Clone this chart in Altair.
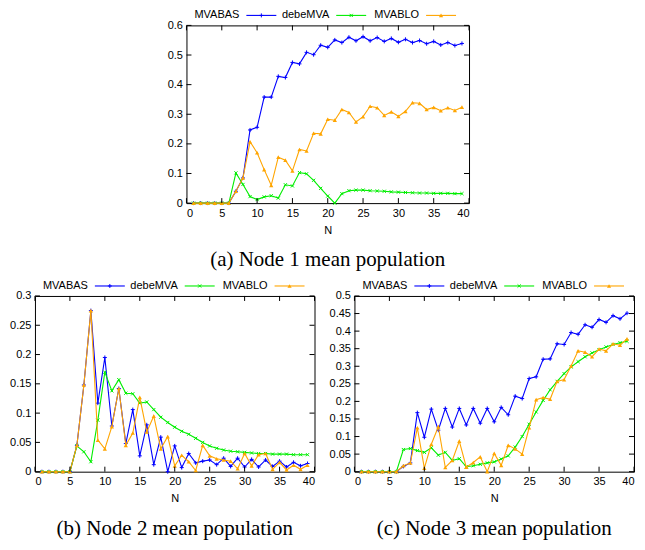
import altair as alt
import pandas as pd

N = list(range(1, 40))
SERIES = ["MVABAS", "debeMVA", "MVABLO"]
XTICKS = [0, 5, 10, 15, 20, 25, 30, 35, 40]

# ---- Node 1 ----
a_mvabas = [0, 0, 0, 0, 0, 0, 0.04, 0.085, 0.247, 0.256, 0.358, 0.358, 0.428, 0.424, 0.475, 0.470,
            0.509, 0.501, 0.533, 0.526, 0.551, 0.542, 0.560, 0.548, 0.562, 0.548, 0.559, 0.546,
            0.556, 0.543, 0.553, 0.542, 0.549, 0.538, 0.546, 0.534, 0.542, 0.532, 0.539]
a_debemva = [0, 0, 0, 0, 0, 0, 0.102, 0.063, 0.022, 0.012, 0.021, 0.025, 0.017, 0.062, 0.058, 0.103,
             0.099, 0.077, 0.050, 0.024, 0.0, 0.032, 0.042, 0.044, 0.044, 0.042, 0.041, 0.040,
             0.038, 0.037, 0.036, 0.035, 0.034, 0.034, 0.033, 0.033, 0.033, 0.032, 0.032]
a_mvablo = [0, 0, 0, 0, 0, 0, 0.04, 0.085, 0.207, 0.17, 0.113, 0.06, 0.155, 0.145, 0.109, 0.181,
            0.176, 0.236, 0.234, 0.283, 0.280, 0.316, 0.306, 0.274, 0.292, 0.327, 0.322, 0.296,
            0.308, 0.293, 0.310, 0.339, 0.337, 0.316, 0.323, 0.312, 0.322, 0.313, 0.324]

# ---- Node 2 ----
b_mvabas = [0, 0, 0, 0, 0, 0.045, 0.148, 0.275, 0.117, 0.195, 0.078, 0.142, 0.048, 0.106, 0.027,
            0.080, 0.012, 0.059, 0.0, 0.044, 0.007, 0.031, 0.015, 0.018, 0.020, 0.012, 0.023,
            0.009, 0.023, 0.008, 0.021, 0.008, 0.020, 0.009, 0.018, 0.008, 0.016, 0.010, 0.014]
b_debemva = [0, 0, 0, 0, 0, 0.044, 0.034, 0.017, 0.088, 0.170, 0.138, 0.157, 0.134, 0.133, 0.117,
             0.119, 0.106, 0.093, 0.084, 0.076, 0.069, 0.064, 0.057, 0.050, 0.044, 0.040, 0.037,
             0.035, 0.034, 0.033, 0.032, 0.031, 0.031, 0.030, 0.030, 0.030, 0.029, 0.029, 0.029]
b_mvablo = [0, 0, 0, 0, 0, 0.045, 0.148, 0.275, 0.054, 0.039, 0.077, 0.142, 0.045, 0.066, 0.127,
            0.068, 0.095, 0.039, 0.060, 0.010, 0.028, 0.017, 0.002, 0.045, 0.027, 0.022, 0.020,
            0.018, 0.005, 0.031, 0.010, 0.029, 0.031, 0.004, 0.016, 0.003, 0.011, 0.004, 0.011]

# ---- Node 3 ----
c_mvabas = [0, 0, 0, 0, 0, 0, 0.015, 0.025, 0.168, 0.098, 0.178, 0.118, 0.180, 0.127, 0.180, 0.133,
            0.180, 0.138, 0.180, 0.142, 0.183, 0.162, 0.215, 0.208, 0.265, 0.270, 0.320, 0.321,
            0.364, 0.362, 0.396, 0.391, 0.418, 0.411, 0.433, 0.425, 0.444, 0.435, 0.451]
c_debemva = [0, 0, 0, 0, 0, 0, 0.063, 0.066, 0.060, 0.055, 0.068, 0.047, 0.055, 0.032, 0.037, 0.014,
             0.017, 0.021, 0.025, 0.028, 0.036, 0.045, 0.070, 0.100, 0.135, 0.170, 0.203, 0.233,
             0.257, 0.279, 0.298, 0.313, 0.327, 0.338, 0.347, 0.355, 0.362, 0.367, 0.371]
c_mvablo = [0, 0, 0, 0, 0, 0, 0.017, 0.025, 0.125, 0.010, 0.078, 0.128, 0.012, 0.032, 0.087, 0.013,
            0.026, 0.042, 0.0, 0.052, 0.018, 0.075, 0.065, 0.050, 0.125, 0.205, 0.211, 0.206,
            0.257, 0.262, 0.301, 0.344, 0.340, 0.327, 0.349, 0.344, 0.364, 0.360, 0.378]

a_yticks = [0, 0.1, 0.2, 0.3, 0.4, 0.5, 0.6]
b_yticks = [0, 0.05, 0.1, 0.15, 0.2, 0.25, 0.3]
c_yticks = [0, 0.05, 0.1, 0.15, 0.2, 0.25, 0.3, 0.35, 0.4, 0.45, 0.5]

COLORS = {"MVABAS": "#0000ff", "debeMVA": "#00ee00", "MVABLO": "#ffa500"}
SANS = "Liberation Sans"
SERIF = "Liberation Serif"
TICK = 5


def point_mark(name):
    c = COLORS[name]
    if name == "MVABAS":
        return alt.Chart().mark_point(shape="M-1,0L1,0M0,-1L0,1", filled=False, stroke=c,
                                      strokeWidth=1, size=16, opacity=1)
    if name == "debeMVA":
        return alt.Chart().mark_point(shape="M-1,-1L1,1M-1,1L1,-1", filled=False, stroke=c,
                                      strokeWidth=1, size=10, opacity=1)
    return alt.Chart().mark_point(shape="triangle-up", filled=True, fill=c, strokeWidth=0,
                                  size=18, opacity=1)


def panel(vals, yticks, caption, W, H, pad_bounds=False):
    ymax = yticks[-1]
    xs = alt.Scale(domain=[0, 40], nice=False, zero=False)
    ys = alt.Scale(domain=[0, ymax], nice=False)
    xaxis = alt.Axis(values=XTICKS, title="N", format="d")
    yaxis = alt.Axis(values=yticks, title=None, format=".2~f")

    def X(f):
        return alt.X(f"{f}:Q", scale=xs, axis=xaxis)

    def Y(f):
        return alt.Y(f"{f}:Q", scale=ys, axis=yaxis)

    layers = []
    for name in SERIES:
        df = pd.DataFrame({"N": N, "value": vals[name]})
        base = alt.Chart(df)
        layers.append(base.mark_line(color=COLORS[name], strokeWidth=1.1).encode(x=X("N"), y=Y("value")))
        pm = point_mark(name)
        layers.append(pm.properties(data=df).encode(x=X("N"), y=Y("value")))

    xt = pd.DataFrame({"v": XTICKS})
    yt = pd.DataFrame({"v": yticks})
    layers.append(alt.Chart(xt).mark_rule(color="black", strokeWidth=1).encode(
        x=X("v"), y=alt.value(H), y2=alt.value(H - TICK)))
    layers.append(alt.Chart(xt).mark_rule(color="black", strokeWidth=1).encode(
        x=X("v"), y=alt.value(0), y2=alt.value(TICK)))
    layers.append(alt.Chart(yt).mark_rule(color="black", strokeWidth=1).encode(
        y=Y("v"), x=alt.value(0), x2=alt.value(TICK)))
    layers.append(alt.Chart(yt).mark_rule(color="black", strokeWidth=1).encode(
        y=Y("v"), x=alt.value(W), x2=alt.value(W - TICK)))

    # gnuplot-style key (label, then line sample with marker), placed on the x scale
    k = 40.0 / W  # data units per pixel
    rows = []
    for i, name in enumerate(SERIES):
        rows.append({"name": name, "tx": (53 + 90 * i) * k, "l1": (60 + 90 * i) * k,
                     "l2": (90 + 90 * i) * k, "pt": (75 + 90 * i) * k})
    key = pd.DataFrame(rows)
    for name in SERIES:
        kd = key[key["name"] == name]
        layers.append(alt.Chart(kd).mark_text(align="right", baseline="middle", font=SANS,
                                              fontSize=11, color="black").encode(
            x=X("tx"), y=alt.value(-10), text="name:N"))
        layers.append(alt.Chart(kd).mark_rule(color=COLORS[name], strokeWidth=1.1).encode(
            x=X("l1"), x2="l2:Q", y=alt.value(-10)))
        layers.append(point_mark(name).properties(data=kd).encode(
            x=X("pt"), y=alt.value(-10)))

    if pad_bounds:
        # invisible symmetric extents so the centred panel keeps its place
        pdf = pd.DataFrame({"name": ["pad"]})
        layers.append(alt.Chart(pdf).mark_rule(opacity=0, strokeWidth=1).encode(
            x=alt.value(W + 10), x2=alt.value(W + 14), y=alt.value(-10)))
        layers.append(alt.Chart(pdf).mark_rule(opacity=0, strokeWidth=1).encode(
            x=alt.value(-34), x2=alt.value(-30), y=alt.value(-10)))

    return alt.layer(*layers).properties(
        width=W, height=H,
        title=alt.TitleParams(caption, orient="bottom", font=SERIF, fontSize=21,
                              fontWeight="normal", color="black", offset=14, anchor="middle"))


pa = panel({"MVABAS": a_mvabas, "debeMVA": a_debemva, "MVABLO": a_mvablo}, a_yticks,
           "(a) Node 1 mean population", 283, 178, pad_bounds=True)
pb = panel({"MVABAS": b_mvabas, "debeMVA": b_debemva, "MVABLO": b_mvablo}, b_yticks,
           "(b) Node 2 mean population", 280, 176)
pc = panel({"MVABAS": c_mvabas, "debeMVA": c_debemva, "MVABLO": c_mvablo}, c_yticks,
           "(c) Node 3 mean population", 280, 176)

bottom = alt.hconcat(pb, pc, spacing=13)
chart = alt.vconcat(pa, bottom, spacing=8, center=True).properties(
    padding={"left": 1, "top": 0, "right": 2, "bottom": 2}, background="white"
).configure_view(stroke="black", strokeWidth=1).configure_axis(
    labelFont=SANS, labelFontSize=11, labelColor="black", ticks=False, domain=False,
    labelPadding=4, titleFont=SANS, titleFontSize=11, titleFontWeight="normal",
    titleColor="black", titlePadding=6, grid=False
)

chart.save("out.html", embed_options={"renderer": "svg", "actions": False})
